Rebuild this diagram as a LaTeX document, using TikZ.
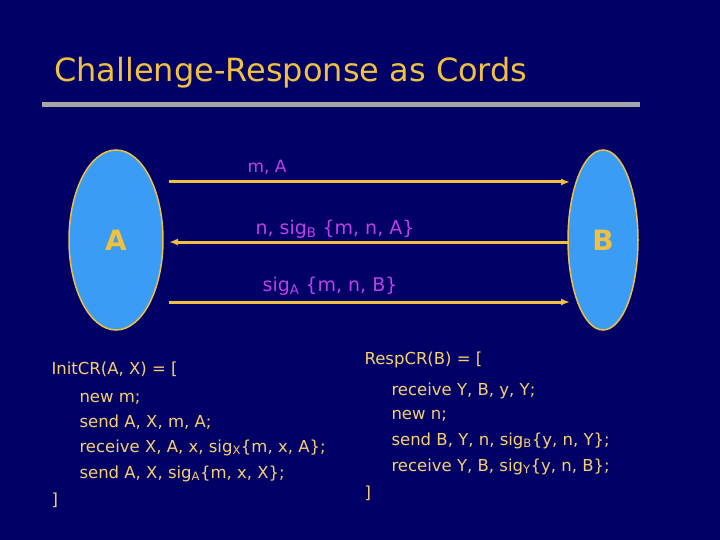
\documentclass[tikz,border=0pt]{standalone}
\usepackage{fontspec}
\setmainfont{DejaVu Sans}
\definecolor{bg}{HTML}{000066}
\definecolor{gold}{HTML}{F0C040}
\definecolor{vio}{HTML}{C040E8}
\definecolor{pale}{HTML}{F8D070}
\definecolor{sky}{HTML}{3A9CF5}
\begin{document}
\begin{tikzpicture}[x=1pt,y=-1pt,
  party/.style={ellipse,draw=gold,line width=1.5pt,fill=sky,inner sep=0},
  msg/.style={draw=gold,line width=3pt,-{Latex[length=9pt,width=7pt]}},
  lbl/.style={text=vio,font=\fontsize{19}{21}\selectfont,anchor=base},
  code/.style={text=pale,font=\fontsize{16.5}{18}\selectfont,anchor=base west}]
\usetikzlibrary{shapes.geometric,arrows.meta}
\fill[bg] (0,0) rectangle (720,540);
\useasboundingbox (0,0) rectangle (720,540);
\node[anchor=base west,text=gold,font=\fontsize{32}{34}\selectfont,inner sep=0] (title) at (54,82) {Challenge-Response as Cords};
\fill[gray!70] (42,102) rectangle (640,107);
\node[party,minimum width=94,minimum height=180] (A) at (116,240) {};
\node[text=gold,font=\bfseries\fontsize{28}{30}\selectfont] at (A) {A};
\node[party,minimum width=70,minimum height=180] (B) at (603,240) {};
\node[text=gold,font=\bfseries\fontsize{28}{30}\selectfont] at (B) {B};
\coordinate (a1) at (169,182); \coordinate (b1) at (570,182);
\coordinate (a2) at (169,242); \coordinate (b2) at (568,242);
\coordinate (a3) at (169,302); \coordinate (b3) at (570,302);
\draw[msg] (a1) -- (b1);
\draw[msg] (b2) -- (a2);
\draw[msg] (a3) -- (b3);
\node[lbl,font=\fontsize{17}{18}\selectfont] (l1) at (267,173) {m, A};
\node[lbl] (l2) at (335,234) {n, sig\textsubscript{B} \{m, n, A\}};
\node[lbl] (l3) at (330,291) {sig\textsubscript{A} \{m, n, B\}};
\node[code] at (48,374) {InitCR(A, X) = [};
\node[code] at (76,402) {new m;};
\node[code] at (76,427) {send A, X, m, A;};
\node[code] at (76,452) {receive X, A, x, sig\textsubscript{X}\{m, x, A\};};
\node[code] at (76,478) {send A, X, sig\textsubscript{A}\{m, x, X\};};
\node[code] at (48,505) {]};
\node[code] at (361,364) {RespCR(B) = [};
\node[code] at (388,395) {receive Y, B, y, Y;};
\node[code] at (388,419) {new n;};
\node[code] at (388,445) {send B, Y, n, sig\textsubscript{B}\{y, n, Y\};};
\node[code] at (388,471) {receive Y, B, sig\textsubscript{Y}\{y, n, B\};};
\node[code] at (361,498) {]};
\end{tikzpicture}
\end{document}
